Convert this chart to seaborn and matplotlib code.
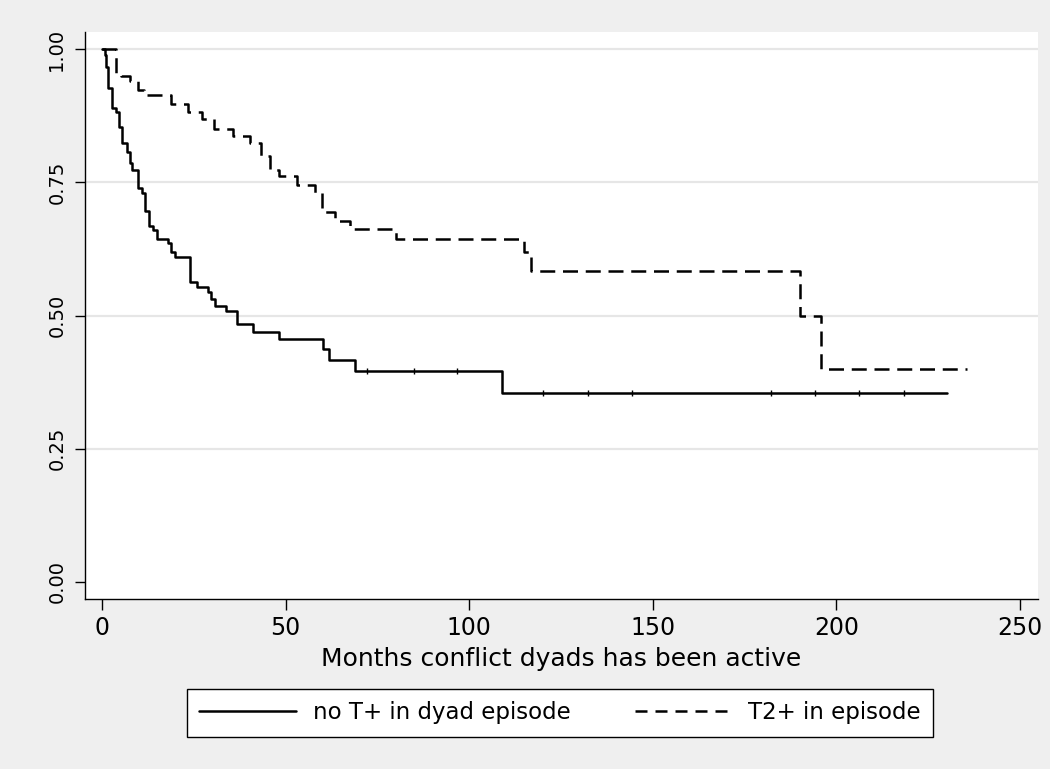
import numpy as np
import pandas as pd
import matplotlib
matplotlib.use("Agg")
import matplotlib.pyplot as plt
import seaborn as sns

# Kaplan-Meier survival estimates: (months, survival) at each step
group_labels = ["no T+ in dyad episode", "T2+ in episode"]

months_no_t = [0, 0.8, 1.1, 1.7, 2.8, 3.7, 4.6, 5.5, 6.7, 7.6, 8.3, 9.8, 10.9,
               11.8, 12.9, 13.8, 14.9, 18.1, 18.8, 19.9, 24.0, 25.8, 29.0, 29.6,
               30.8, 33.8, 36.9, 41.0, 48.1, 60.2, 61.9, 69.0, 109.0, 230.1]
surv_no_t = [1.0, 0.989, 0.967, 0.927, 0.889, 0.883, 0.854, 0.824, 0.808, 0.786,
             0.773, 0.739, 0.731, 0.697, 0.668, 0.661, 0.644, 0.637, 0.620, 0.610,
             0.564, 0.553, 0.545, 0.531, 0.519, 0.509, 0.484, 0.470, 0.456, 0.437,
             0.417, 0.396, 0.354, 0.354]

months_t2 = [0, 3.8, 5.2, 7.5, 9.9, 11.5, 18.9, 23.3, 27.2, 30.5, 35.8, 40.2,
             43.3, 45.8, 48.1, 53.1, 58.1, 60.0, 63.5, 67.6, 80.1, 114.9, 116.9,
             190.1, 195.9, 235.5]
surv_t2 = [1.0, 0.955, 0.950, 0.941, 0.923, 0.914, 0.898, 0.882, 0.869, 0.850,
           0.837, 0.825, 0.800, 0.773, 0.762, 0.745, 0.730, 0.695, 0.678, 0.662,
           0.643, 0.620, 0.583, 0.500, 0.400, 0.400]

# censored observations on the no-T+ curve
censor_no_t = [72.2, 84.9, 96.7, 120.1, 132.3, 144.2, 182.1, 194.2, 206.2, 218.3]

x_ticks = [0, 50, 100, 150, 200, 250]
y_ticks = [0.0, 0.25, 0.5, 0.75, 1.0]
y_tick_labels = ["0.00", "0.25", "0.50", "0.75", "1.00"]
x_label = "Months conflict dyads has been active"

sns.set_theme(style="white")
plt.rcParams["font.family"] = ["DejaVu Sans"]
plt.rcParams["text.color"] = "black"
plt.rcParams["axes.labelcolor"] = "black"
plt.rcParams["xtick.color"] = "black"
plt.rcParams["ytick.color"] = "black"

LW = 1.8

df = pd.concat([
    pd.DataFrame({"month": months_no_t, "survival": surv_no_t, "group": group_labels[0]}),
    pd.DataFrame({"month": months_t2, "survival": surv_t2, "group": group_labels[1]}),
], ignore_index=True)

fig = plt.figure(figsize=(10.5, 7.69), dpi=100)
fig.patch.set_facecolor("#EFEFEF")
ax = fig.add_axes([85 / 1050, 1 - 599 / 769, (1038 - 85) / 1050, (599 - 32) / 769])
ax.set_facecolor("white")

sns.lineplot(data=df, x="month", y="survival", hue="group", style="group",
             palette={group_labels[0]: "black", group_labels[1]: "black"},
             dashes={group_labels[0]: "", group_labels[1]: (6.0, 3.1)},
             drawstyle="steps-post", linewidth=LW, estimator=None, sort=False,
             legend=False, ax=ax)

# censoring ticks sit on the step function
cens_y = [surv_no_t[np.searchsorted(months_no_t, t, side="right") - 1] for t in censor_no_t]
ax.plot(censor_no_t, cens_y, linestyle="none", marker="|", markersize=3.8,
        markeredgewidth=1.0, color="black")

ax.set_xlim(-4.63, 254.9)
ax.set_ylim(-0.032, 1.0325)
ax.set_xticks(x_ticks)
ax.set_xticklabels([str(v) for v in x_ticks])
ax.set_yticks(y_ticks)
ax.set_yticklabels(y_tick_labels)

ax.tick_params(axis="x", length=8, width=1, color="black", labelsize=17, pad=4,
               labelcolor="black", bottom=True)
ax.tick_params(axis="y", length=7.5, width=1, color="black", labelsize=14, pad=6,
               labelcolor="black", left=True)
plt.setp(ax.get_yticklabels(), rotation=90, va="center")

ax.yaxis.grid(True, color="#E6E6E6", linewidth=1.6)
ax.xaxis.grid(False)
ax.set_axisbelow(True)
ax.get_ygridlines()[0].set_visible(False)

for side in ["top", "right"]:
    ax.spines[side].set_visible(False)
for side in ["left", "bottom"]:
    ax.spines[side].set_color("black")
    ax.spines[side].set_linewidth(1.0)

ax.set_xlabel(x_label, fontsize=18, labelpad=5, color="black")
ax.set_ylabel("")

handles = [
    plt.Line2D([], [], color="black", linewidth=LW, linestyle="-"),
    plt.Line2D([], [], color="black", linewidth=LW, linestyle=(0, (4.8, 3.2))),
]
leg = ax.legend(handles, group_labels, ncol=2, loc="center",
                bbox_to_anchor=(560 / 1050, 1 - 712.7 / 769),
                bbox_transform=fig.transFigure, frameon=True, fancybox=False,
                edgecolor="black", facecolor="white", framealpha=1, fontsize=16.5,
                handlelength=4.2, handletextpad=0.75, columnspacing=2.8,
                borderpad=0.55, borderaxespad=0)
leg.get_frame().set_linewidth(1.0)
for t in leg.get_texts():
    t.set_color("black")

fig.savefig("out.png", dpi=100, facecolor=fig.get_facecolor())
